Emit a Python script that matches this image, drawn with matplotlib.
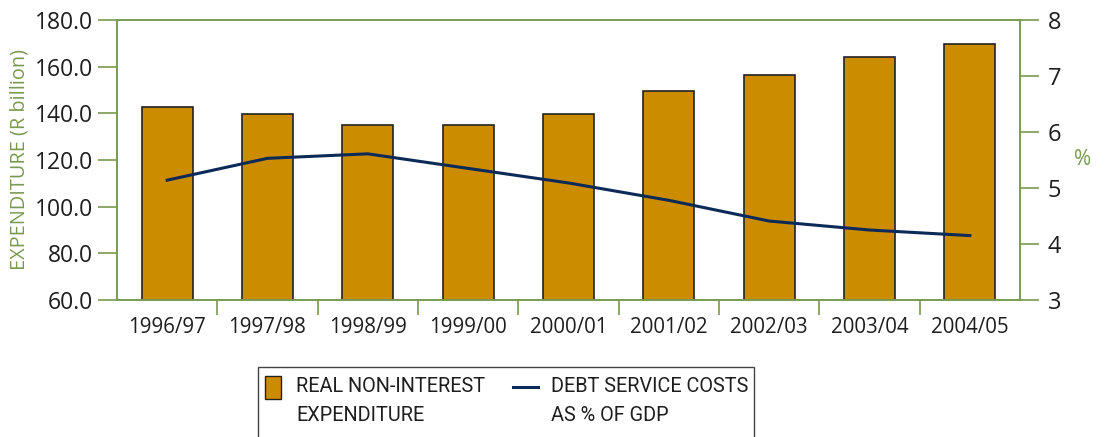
import matplotlib
matplotlib.use("Agg")
import matplotlib.pyplot as plt
from matplotlib.patches import Rectangle
from matplotlib.lines import Line2D
import numpy as np

categories = ["1996/97", "1997/98", "1998/99", "1999/00", "2000/01",
              "2001/02", "2002/03", "2003/04", "2004/05"]
expenditure = [142.7, 139.8, 134.8, 134.8, 139.8, 149.7, 156.5, 164.0, 169.7]
debt_pct = [5.14, 5.53, 5.61, 5.35, 5.09, 4.78, 4.41, 4.25, 4.15]
left_ticks = [60, 80, 100, 120, 140, 160, 180]
right_ticks = [3, 4, 5, 6, 7, 8]

W, H = 1105, 437
fig = plt.figure(figsize=(W / 100, H / 100), dpi=100)
green = "#7a9a50"
bar_col = "#cc8c00"
line_col = "#0b2a58"
txt = "#1e1e1e"

ax = fig.add_axes([117 / W, 1 - 300 / H, (1020 - 117) / W, (300 - 20) / H])
x = np.arange(len(categories))
ax.bar(x, expenditure, width=0.51, color=bar_col, edgecolor="#222222", linewidth=1.2, zorder=2)
ax.set_xlim(-0.5, len(categories) - 0.5)
ax.set_ylim(60, 180)
ax.set_yticks(left_ticks)
ax.set_yticklabels([f"{v:.1f}" for v in left_ticks])
ax.set_xticks(x)
ax.set_xticklabels(categories)
ax.set_xticks(np.arange(0.5, len(categories) - 1, 1), minor=True)
ax.tick_params(axis="x", which="major", length=0, pad=12.5, labelsize=14.8, labelcolor=txt)
ax.tick_params(axis="x", which="minor", length=11, color=green, width=1.2, direction="out")
ax.tick_params(axis="y", length=14, color=green, width=1.2, labelsize=16.5, labelcolor=txt, pad=3)
for lab in ax.get_xticklabels():
    lab.set_fontfamily("Open Sans")
for lab in ax.get_yticklabels():
    lab.set_fontfamily("Open Sans")
for s in ax.spines.values():
    s.set_color(green)
    s.set_linewidth(1.2)
ax.set_ylabel("EXPENDITURE (R billion)", color=green, fontsize=14.3, fontfamily="Open Sans")
ax.yaxis.set_label_coords(-0.097, 0.5)

ax2 = ax.twinx()
ax2.plot(x, debt_pct, color=line_col, linewidth=2.2, zorder=3)
ax2.set_ylim(3, 8)
ax2.set_yticks(right_ticks)
ax2.tick_params(axis="y", length=14, color=green, width=1.2, labelsize=17, labelcolor=txt, pad=6)
for lab in ax2.get_yticklabels():
    lab.set_fontfamily("Open Sans")
for s in ax2.spines.values():
    s.set_color(green)
    s.set_linewidth(1.2)
fig.text(1083 / W, 1 - 160 / H, "%", color=green, fontsize=15, fontfamily="Open Sans",
         ha="center", va="center")

# legend (manually drawn, extends below figure edge)
fig.patches.append(Rectangle((258 / W, 1 - 445 / H), (754 - 258) / W, (445 - 367) / H,
                             transform=fig.transFigure, facecolor="white",
                             edgecolor="#444444", linewidth=1.0, clip_on=False))
fig.patches.append(Rectangle((265 / W, 1 - 399 / H), 16 / W, 23 / H,
                             transform=fig.transFigure, facecolor=bar_col,
                             edgecolor="#222222", linewidth=1.0))
fig.lines.append(Line2D([513 / W, 538 / W], [1 - 387 / H, 1 - 387 / H],
                        transform=fig.transFigure, color=line_col, linewidth=2.2))
lfont = dict(fontsize=14.3, color=txt, fontfamily="Roboto",
             va="center", ha="left", linespacing=1.65)
fig.text(296 / W, 1 - 401 / H, "REAL NON-INTEREST\nEXPENDITURE", **lfont)
fig.text(551 / W, 1 - 401 / H, "DEBT SERVICE COSTS\nAS % OF GDP", **lfont)

fig.savefig("out.png", dpi=100)
